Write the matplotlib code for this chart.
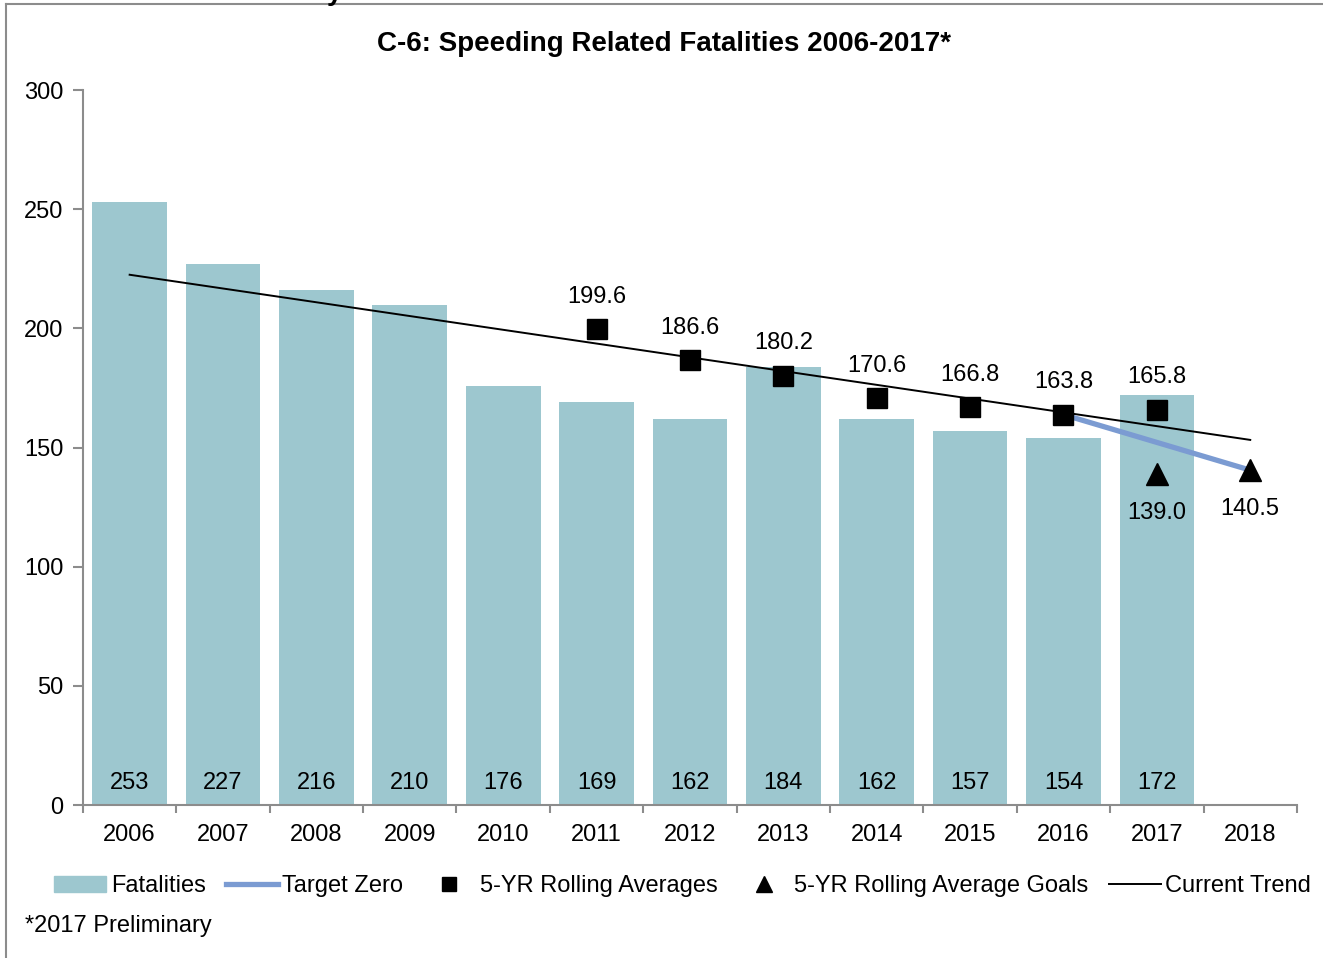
import numpy as np
import matplotlib.pyplot as plt
from matplotlib.lines import Line2D
from matplotlib.patches import Patch

plt.rcParams['font.family'] = ['Liberation Sans', 'DejaVu Sans']

# data
years = ['2006', '2007', '2008', '2009', '2010', '2011', '2012',
         '2013', '2014', '2015', '2016', '2017', '2018']
fatalities = [253, 227, 216, 210, 176, 169, 162, 184, 162, 157, 154, 172]
avg_years = ['2011', '2012', '2013', '2014', '2015', '2016', '2017']
rolling_avg = [199.6, 186.6, 180.2, 170.6, 166.8, 163.8, 165.8]
goal_years = ['2017', '2018']
goals = [139.0, 140.5]
target_years = ['2016', '2018']
target_zero = [163.8, 140.5]
trend_years = ['2006', '2018']
trend = [222.5, 153.2]

bar_color = '#9DC7CF'
line_blue = '#7B9BD2'
grey = '#8C8C8C'

fig = plt.figure(figsize=(13.23, 9.58), dpi=100)
ax = fig.add_axes([0.0627, 0.1597, 0.9176, 0.7463])

idx = {y: i for i, y in enumerate(years)}
x_bar = np.arange(len(fatalities))
ax.bar(x_bar, fatalities, width=0.8, color=bar_color, zorder=1)
for x, v in zip(x_bar, fatalities):
    ax.text(x, 4.5, str(v), ha='center', va='bottom', fontsize=17)

ax.plot([idx[y] for y in trend_years], trend, color='black', lw=1.4, zorder=2)
ax.plot([idx[y] for y in target_years], target_zero, color=line_blue, lw=3.8,
        zorder=3, solid_capstyle='butt')

xa = [idx[y] for y in avg_years]
ax.plot(xa, rolling_avg, ls='none', marker='s', ms=14, color='black', zorder=4)
for x, v in zip(xa, rolling_avg):
    ax.annotate(f'{v:.1f}', (x, v), xytext=(0, 15.5), textcoords='offset points',
                ha='center', va='bottom', fontsize=17)

xg = [idx[y] for y in goal_years]
ax.plot(xg, goals, ls='none', marker='^', ms=16, color='black', zorder=4)
for x, v in zip(xg, goals):
    ax.annotate(f'{v:.1f}', (x, v), xytext=(0, -20), textcoords='offset points',
                ha='center', va='top', fontsize=17)

ax.set_xlim(-0.5, len(years) - 0.5)
ax.set_ylim(0, 300)
ax.set_yticks(range(0, 301, 50))
ax.set_xticks(range(len(years)))
ax.set_xticklabels(years)
ax.set_xticks(np.arange(-0.5, len(years), 1), minor=True)
ax.tick_params(axis='x', which='major', length=0, pad=14, labelsize=17)
ax.tick_params(axis='x', which='minor', length=6, width=1.5, color=grey, direction='out')
ax.tick_params(axis='y', length=7, width=1.5, color=grey, labelsize=17, pad=7)
for s in ['top', 'right']:
    ax.spines[s].set_visible(False)
for s in ['left', 'bottom']:
    ax.spines[s].set_color(grey)
    ax.spines[s].set_linewidth(1.5)

ax.set_title('C-6: Speeding Related Fatalities 2006-2017*', fontsize=20,
             fontweight='bold', pad=28, x=0.479)

handles = [
    Patch(color=bar_color),
    Line2D([], [], color=line_blue, lw=3.8),
    Line2D([], [], ls='none', marker='s', ms=10, color='black'),
    Line2D([], [], ls='none', marker='^', ms=11, color='black'),
    Line2D([], [], color='black', lw=1.4),
]
labels = ['Fatalities', 'Target Zero', '5-YR Rolling Averages',
          '5-YR Rolling Average Goals', 'Current Trend']
fig.legend(handles, labels, loc='center', bbox_to_anchor=(0.516, 0.075), ncol=5,
           frameon=False, fontsize=17, handlelength=2.2, handletextpad=0.2,
           columnspacing=0.85, handleheight=0.7, borderpad=0.2)

fig.text(0.019, 0.033, '*2017 Preliminary', fontsize=17, va='center', ha='left')

# clipped heading from the page above the chart
fig.text(0.247, 1.0, 'y', fontsize=20, fontweight='bold', va='baseline', ha='left')

# frame lines around the figure
fig.add_artist(Line2D([0.0045, 0.0045], [0, 0.996], color=grey, lw=1.5))
fig.add_artist(Line2D([0.0045, 1], [0.996, 0.996], color=grey, lw=1.5))

fig.savefig('out.png', dpi=100)
